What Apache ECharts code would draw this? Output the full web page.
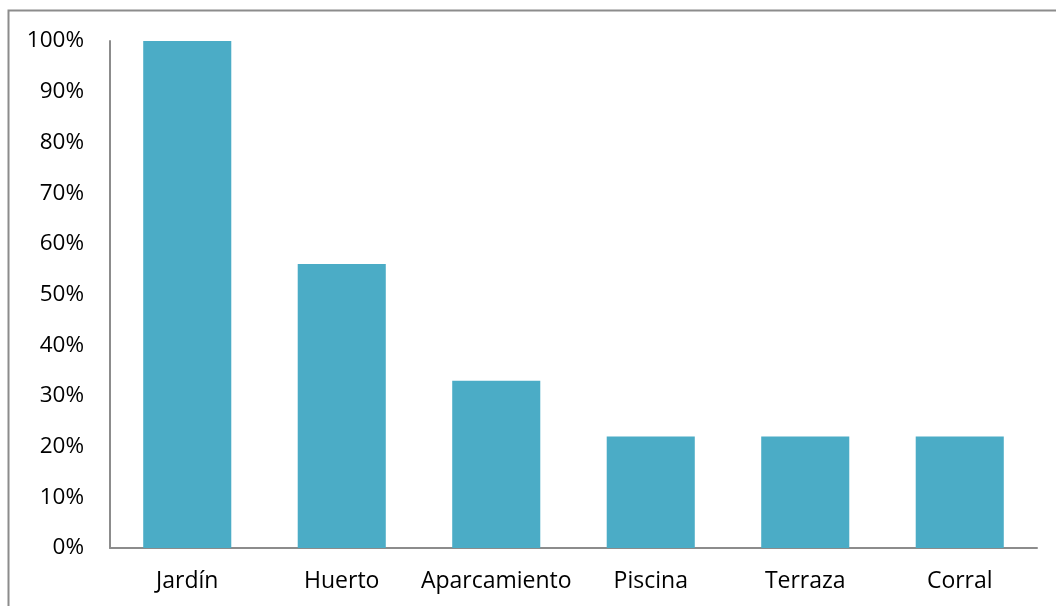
<!DOCTYPE html>
<html>
<head>
<meta charset="utf-8">
<script src="https://cdn.jsdelivr.net/npm/echarts@6/dist/echarts.min.js"></script>
<style>
  html, body { margin: 0; padding: 0; background: #fff; }
  #chart { width: 1056px; height: 606px; }
</style>
</head>
<body>
<div id="chart"></div>
<script>
// Outdoor features of the dwellings, share of cases
const categories = ['Jardín', 'Huerto', 'Aparcamiento', 'Piscina', 'Terraza', 'Corral'];
const shares = [100, 56, 33, 22, 22, 22];
const yTicks = [0, 10, 20, 30, 40, 50, 60, 70, 80, 90, 100];

const FONT = '"Open Sans"';
const chart = echarts.init(document.getElementById('chart'), null, { renderer: 'canvas' });

chart.setOption({
  animation: false,
  backgroundColor: '#ffffff',
  graphic: [{
    type: 'polyline',
    shape: { points: [[8.5, 620], [8.5, 10.5], [1070, 10.5]] },
    style: { stroke: '#8c8c8c', lineWidth: 2, fill: null },
    silent: true
  }],
  grid: { left: 110, right: 19, top: 41, bottom: 58, containLabel: false },
  xAxis: {
    type: 'category',
    data: categories,
    axisLine: { lineStyle: { color: '#8c8c8c', width: 2 } },
    axisTick: { show: false },
    axisLabel: { color: '#000', fontFamily: FONT, fontSize: 23, margin: 22, interval: 0 }
  },
  yAxis: {
    type: 'value',
    min: yTicks[0],
    max: yTicks[yTicks.length - 1],
    interval: 10,
    axisLine: { show: true, lineStyle: { color: '#8c8c8c', width: 2 } },
    axisTick: { show: false },
    splitLine: { show: false },
    axisLabel: { color: '#000', fontFamily: FONT, fontSize: 22.5, margin: 26, formatter: '{value}%' }
  },
  series: [{
    type: 'bar',
    data: shares,
    barWidth: '57%',
    itemStyle: { color: '#4bacc6' }
  }]
});
</script>
</body>
</html>
